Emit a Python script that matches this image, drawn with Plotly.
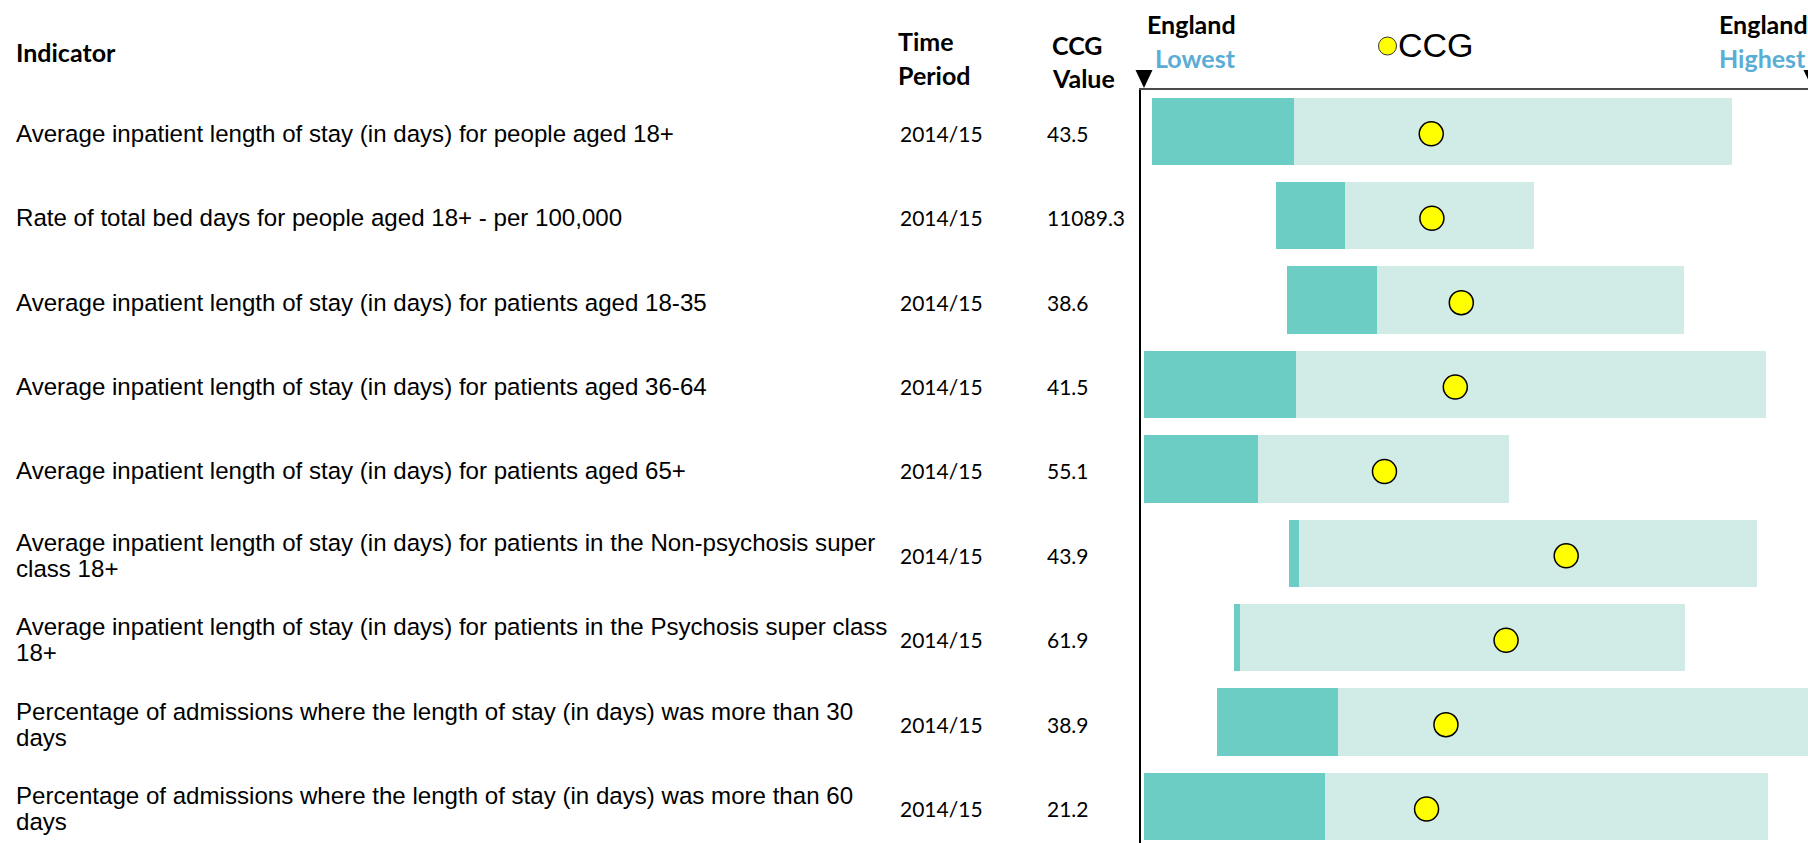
import plotly.graph_objects as go

# ---- data -------------------------------------------------------------
indicators = [
    ["Average inpatient length of stay (in days) for people aged 18+"],
    ["Rate of total bed days for people aged 18+ - per 100,000"],
    ["Average inpatient length of stay (in days) for patients aged 18-35"],
    ["Average inpatient length of stay (in days) for patients aged 36-64"],
    ["Average inpatient length of stay (in days) for patients aged 65+"],
    ["Average inpatient length of stay (in days) for patients in the Non-psychosis super",
     "class 18+"],
    ["Average inpatient length of stay (in days) for patients in the Psychosis super class",
     "18+"],
    ["Percentage of admissions where the length of stay (in days) was more than 30",
     "days"],
    ["Percentage of admissions where the length of stay (in days) was more than 60",
     "days"],
]
time_period = ["2014/15"] * 9
ccg_value = [43.5, 11089.3, 38.6, 41.5, 55.1, 43.9, 61.9, 38.9, 21.2]

# spine positions on a 0 (England lowest) .. 100 (England highest) scale
band_start = [1.2, 19.7, 21.4, 0.0, 0.0, 21.7, 13.5, 11.0, 0.0]
band_split = [22.5, 30.1, 34.9, 22.8, 17.0, 23.2, 14.3, 29.0, 27.1]
band_end = [88.0, 58.4, 80.8, 93.1, 54.7, 91.8, 81.0, 100.0, 93.4]
ccg_position = [43.0, 43.1, 47.5, 46.6, 36.0, 63.2, 54.2, 45.2, 42.3]
england_range = [0, 100]

# ---- styling ----------------------------------------------------------
W, H = 1808, 843
DARK_BAND = "#6bcdc3"
LIGHT_BAND = "#d1ebe7"
BLUE = "#5aadd5"
HEAD_FONT = "Lato"
BODY_FONT = "Arial, Liberation Sans, sans-serif"
HEAD_SIZE = 25
BODY_SIZE = 24.1
VALUE_SIZE = 21
LINE_STEP = 26

# horizontal scale: where the England lowest / highest ends sit in pixels
ZERO_PX, HUNDRED_PX = 1144, 1812
PLOT_LEFT = 1141
x_per_px = (england_range[1] - england_range[0]) / (HUNDRED_PX - ZERO_PX)
row_pitch = 84.4


def px_x(px):
    return px / W


def px_y(py):
    return 1 - py / H


def value_to_paper_x(v):
    return px_x(ZERO_PX + (v - england_range[0]) / x_per_px)


rows = list(range(len(indicators)))

fig = go.Figure()

fig.add_trace(go.Bar(
    y=rows, x=[s - b for b, s in zip(band_start, band_split)], base=band_start,
    orientation="h", width=0.8, marker=dict(color=DARK_BAND, line=dict(width=0)),
    hoverinfo="skip", showlegend=False,
))
fig.add_trace(go.Bar(
    y=rows, x=[e - s for s, e in zip(band_split, band_end)], base=band_split,
    orientation="h", width=0.8, marker=dict(color=LIGHT_BAND, line=dict(width=0)),
    hoverinfo="skip", showlegend=False,
))
fig.add_trace(go.Scatter(
    x=ccg_position, y=[r + 0.03 for r in rows], mode="markers",
    marker=dict(size=24, color="#ffff00", line=dict(color="#000000", width=1.5)),
    name="CCG", showlegend=False, cliponaxis=False,
))

annotations = []


def note(text, x, y, size, family, color="#000000", bold=False, xanchor="left",
         yref="paper", yshift=0):
    annotations.append(dict(
        text=f"<b>{text}</b>" if bold else text,
        x=x, y=y, xref="paper", yref=yref, xanchor=xanchor, yanchor="middle",
        yshift=yshift, showarrow=False,
        font=dict(size=size, family=family, color=color),
    ))


# column headers
note("Indicator", px_x(14), px_y(52), HEAD_SIZE, HEAD_FONT, bold=True)
note("Time", px_x(896), px_y(41), HEAD_SIZE, HEAD_FONT, bold=True)
note("Period", px_x(896), px_y(75), HEAD_SIZE, HEAD_FONT, bold=True)
note("CCG", px_x(1050), px_y(45), HEAD_SIZE, HEAD_FONT, bold=True)
note("Value", px_x(1050), px_y(78), HEAD_SIZE, HEAD_FONT, bold=True)
note("England", px_x(1238), px_y(24), HEAD_SIZE, HEAD_FONT, bold=True, xanchor="right")
note("Lowest", px_x(1238), px_y(58), HEAD_SIZE, HEAD_FONT, color=BLUE, bold=True,
     xanchor="right")
note("England", px_x(1717), px_y(24), HEAD_SIZE, HEAD_FONT, bold=True)
note("Highest", px_x(1717), px_y(58), HEAD_SIZE, HEAD_FONT, color=BLUE, bold=True)
note("CCG", px_x(1396), px_y(45), 34, BODY_FONT)

# table rows
for r, lines in enumerate(indicators):
    n = len(lines)
    for k, line in enumerate(lines):
        shift = ((n - 1) / 2 - k) * LINE_STEP
        note(line, px_x(14), r, BODY_SIZE, BODY_FONT, yref="y", yshift=shift - 2)
    note(time_period[r], px_x(898), r, VALUE_SIZE, HEAD_FONT, yref="y", yshift=-2)
    note(str(ccg_value[r]), px_x(1045), r, VALUE_SIZE, HEAD_FONT, yref="y", yshift=-2)

# key dot and the England lowest / highest pointers
shapes = [
    dict(type="circle", xref="paper", yref="paper",
         x0=px_x(1378.5), x1=px_x(1396.5), y0=px_y(55), y1=px_y(37),
         fillcolor="#ffff00", line=dict(color="#333333", width=1)),
]
half_w = 8.5 / W
for v in england_range:
    cx = value_to_paper_x(v)
    shapes.append(dict(
        type="path", xref="paper", yref="paper",
        path=f"M {cx - half_w},{px_y(70)} L {cx + half_w},{px_y(70)} L {cx},{px_y(88)} Z",
        fillcolor="#000000", line=dict(width=0),
    ))

fig.update_layout(
    width=W, height=H,
    margin=dict(l=0, r=0, t=0, b=0),
    paper_bgcolor="white", plot_bgcolor="white",
    barmode="overlay", bargap=0,
    annotations=annotations, shapes=shapes,
    xaxis=dict(
        domain=[px_x(PLOT_LEFT), 1],
        range=[-(ZERO_PX - PLOT_LEFT) * x_per_px, (W - ZERO_PX) * x_per_px],
        side="top", showline=True, linecolor="#4a4a4a", linewidth=2,
        showgrid=False, zeroline=False, showticklabels=False, ticks="",
        fixedrange=True,
    ),
    yaxis=dict(
        domain=[0, px_y(90)],
        range=[(H - 131.3) / row_pitch, -(131.3 - 90) / row_pitch],
        showline=True, linecolor="#000000", linewidth=2,
        showgrid=False, zeroline=False, showticklabels=False, ticks="",
        fixedrange=True,
    ),
    showlegend=False,
)

fig.write_html("out.html")
